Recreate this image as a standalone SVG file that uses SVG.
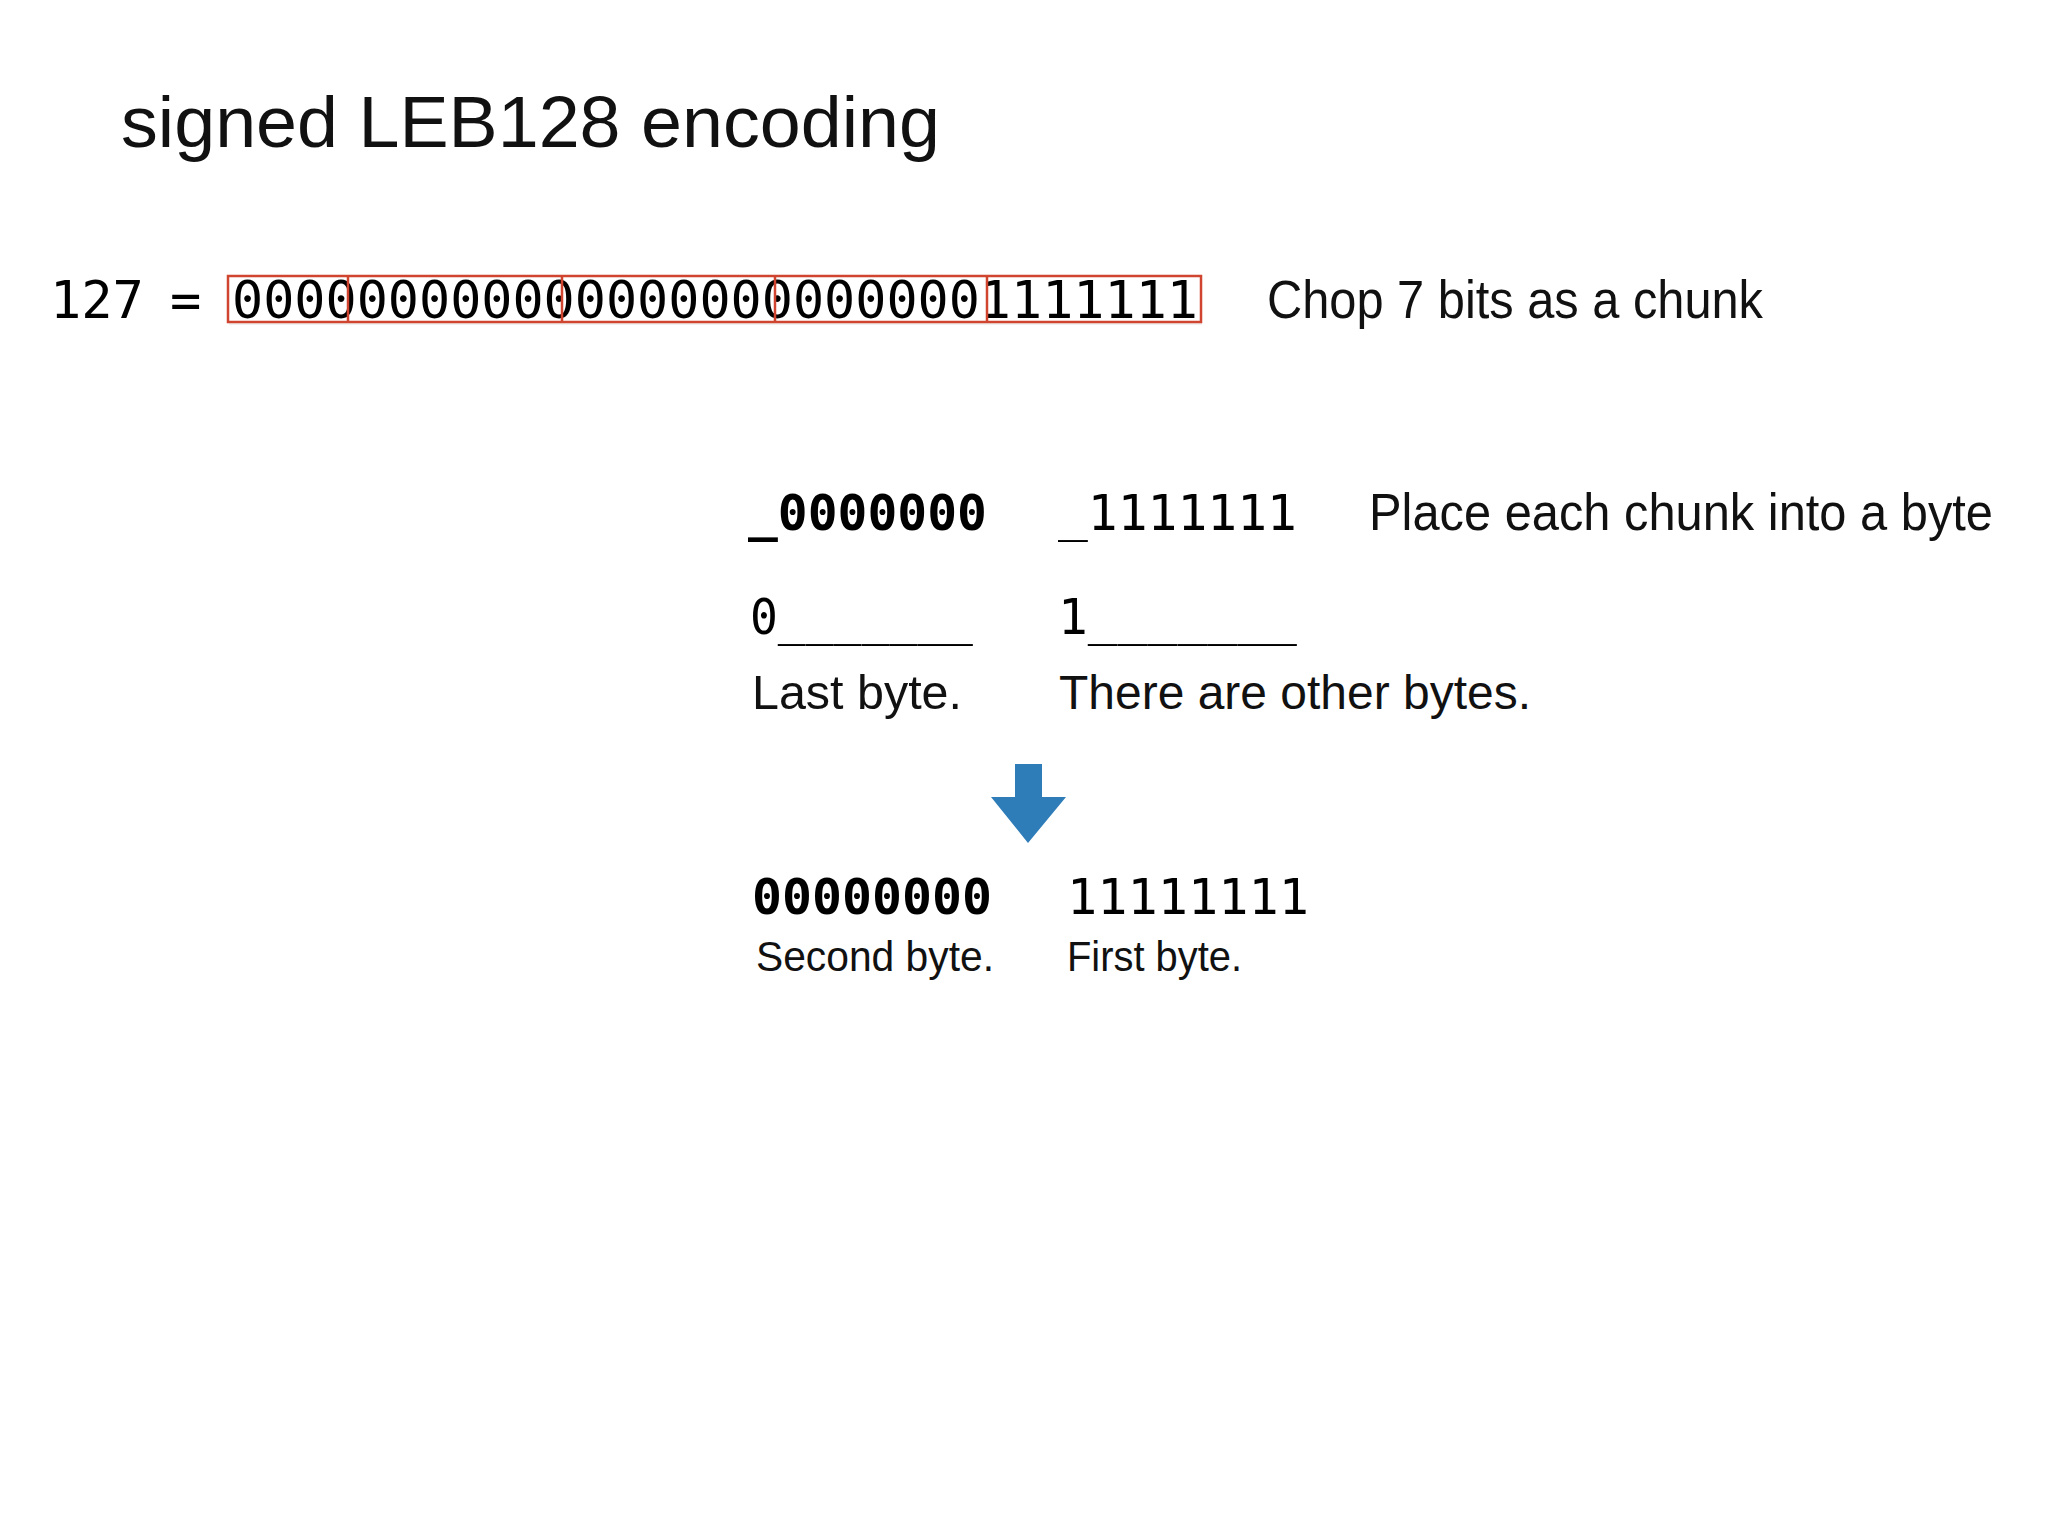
<svg xmlns="http://www.w3.org/2000/svg" width="2048" height="1536" viewBox="0 0 2048 1536">
<style>
.t{font-family:"Liberation Sans",Arial,sans-serif;fill:#111}
.m{font-family:"DejaVu Sans Mono","Liberation Mono",monospace;fill:#000}
.b{font-weight:bold}
.box{fill:none;stroke:#d0452f;stroke-width:2.5}
</style>
<rect width="2048" height="1536" fill="#fff"/>
<text class="t" x="121" y="147" font-size="72" textLength="819" lengthAdjust="spacingAndGlyphs">signed LEB128 encoding</text>
<g id="bits">
<text class="m" x="50" y="318" font-size="52">127</text>
<text class="m" x="170" y="318" font-size="52">=</text>
<rect x="229" y="279" width="973" height="46" fill="#000" opacity="0.06"/>
<rect x="228" y="276" width="973" height="46" fill="#fff"/>
<text class="m" x="232" y="318" font-size="52" textLength="966" lengthAdjust="spacingAndGlyphs">0000000000000000000000001111111</text>
<rect class="box" x="228" y="276" width="973" height="46"/>
<line class="box" x1="348" y1="276" x2="348" y2="322"/>
<line class="box" x1="562" y1="276" x2="562" y2="322"/>
<line class="box" x1="775" y1="276" x2="775" y2="322"/>
<line class="box" x1="987" y1="276" x2="987" y2="322"/>
<text class="t" x="1267" y="318" font-size="54" textLength="496" lengthAdjust="spacingAndGlyphs">Chop 7 bits as a chunk</text>
</g>
<g id="chunks">
<text class="m b" x="748" y="530" font-size="50" textLength="239" lengthAdjust="spacingAndGlyphs">_0000000</text>
<text class="m" x="1058" y="530" font-size="50" textLength="239" lengthAdjust="spacingAndGlyphs">_1111111</text>
<text class="t" x="1369" y="530" font-size="52" textLength="624" lengthAdjust="spacingAndGlyphs">Place each chunk into a byte</text>
<text class="m" x="750" y="634" font-size="50" textLength="223" lengthAdjust="spacingAndGlyphs">0_______</text>
<text class="m" x="1058" y="634" font-size="50" textLength="239" lengthAdjust="spacingAndGlyphs">1_______</text>
<text class="t" x="752" y="709" font-size="48" textLength="210" lengthAdjust="spacingAndGlyphs">Last byte.</text>
<text class="t" x="1059" y="709" font-size="48" textLength="472" lengthAdjust="spacingAndGlyphs">There are other bytes.</text>
</g>
<g id="arrow">
<polygon points="1015,764 1042,764 1042,797 1066,797 1028,843 991,797 1015,797" fill="#2f7db8"/>
</g>
<g id="result">
<text class="m b" x="752" y="914" font-size="50" textLength="240" lengthAdjust="spacingAndGlyphs">00000000</text>
<text class="m" x="1067" y="914" font-size="50" textLength="242" lengthAdjust="spacingAndGlyphs">11111111</text>
<text class="t" x="756" y="971" font-size="42" textLength="238" lengthAdjust="spacingAndGlyphs">Second byte.</text>
<text class="t" x="1067" y="971" font-size="42" textLength="175" lengthAdjust="spacingAndGlyphs">First byte.</text>
</g>
</svg>
